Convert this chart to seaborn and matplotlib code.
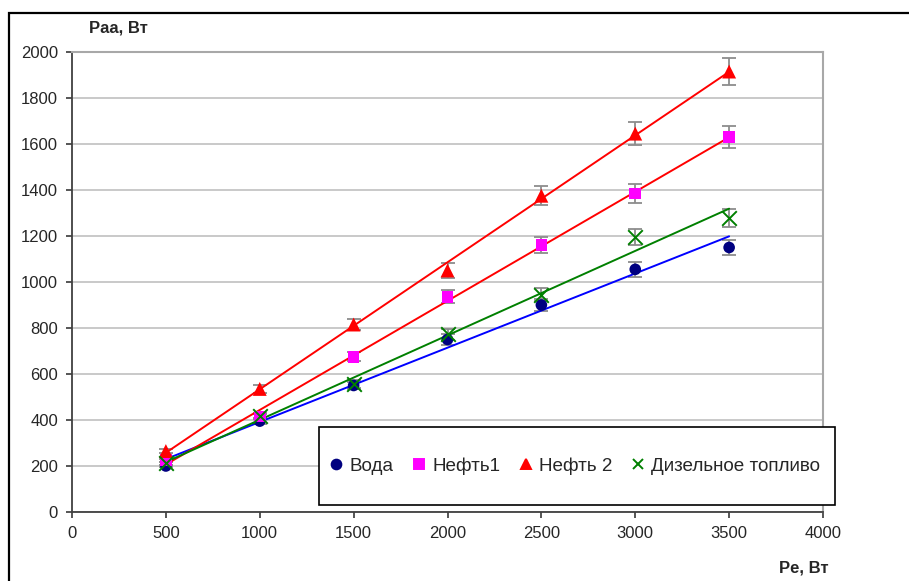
import numpy as np
import pandas as pd
import seaborn as sns
import matplotlib.pyplot as plt
from matplotlib.patches import Rectangle

# data
pe = [500, 1000, 1500, 2000, 2500, 3000, 3500]
voda = [200, 395, 550, 750, 900, 1055, 1150]
neft1 = [225, 415, 675, 935, 1160, 1385, 1630]
neft2 = [265, 535, 815, 1050, 1375, 1645, 1915]
dizel = [212, 418, 556, 772, 945, 1195, 1278]

series_names = ['Вода', 'Нефть1', 'Нефть 2', 'Дизельное топливо']
series_vals = [voda, neft1, neft2, dizel]
marker_colors = ['#000080', '#ff00ff', '#ff0000', '#008000']
line_colors = ['#0000ff', '#ff0000', '#ff0000', '#008000']
markers = ['o', 's', '^', 'x']
err_frac = 0.03

sns.set_theme(style='white')
plt.rcParams['font.family'] = ['Liberation Sans', 'DejaVu Sans']

df = pd.DataFrame({
    'Pe': pe * len(series_names),
    'Paa': sum(series_vals, []),
    'series': sum([[n] * len(pe) for n in series_names], []),
})

fig = plt.figure(figsize=(9.09, 5.81), dpi=100)
ax = fig.add_axes([0.0792, 0.1188, 0.8262, 0.7917])

for name, vals, mc, lc, m in zip(series_names, series_vals, marker_colors, line_colors, markers):
    sub = df[df['series'] == name]
    ax.errorbar(sub['Pe'], sub['Paa'], yerr=np.array(vals) * err_frac, fmt='none',
                ecolor='#8c8c8c', elinewidth=1.3, capsize=5, capthick=1.3, zorder=2)
    sns.regplot(data=sub, x='Pe', y='Paa', scatter=False, ci=None, ax=ax,
                line_kws={'color': lc, 'lw': 1.4, 'zorder': 3})
    if m == 'x':
        sns.scatterplot(data=sub, x='Pe', y='Paa', marker=m, color=mc, s=110,
                        linewidth=1.4, ax=ax, zorder=4, legend=False)
    else:
        sns.scatterplot(data=sub, x='Pe', y='Paa', marker=m, color=mc,
                        s=100 if m == '^' else 70, edgecolor='none', ax=ax,
                        zorder=4, legend=False)

ax.set_xlim(0, 4000)
ax.set_ylim(0, 2000)
ax.set_xticks(range(0, 4001, 500))
ax.set_yticks(range(0, 2001, 200))
ax.tick_params(axis='both', labelsize=12, length=4, direction='out', color='#404040',
               bottom=True, left=True, pad=6)
ax.yaxis.grid(True, color='#c0c0c0', lw=1.2)
ax.set_axisbelow(True)
ax.set_xlabel('')
ax.set_ylabel('')
for side in ['left', 'bottom']:
    ax.spines[side].set_color('#404040')
    ax.spines[side].set_linewidth(1.3)
for side in ['top', 'right']:
    ax.spines[side].set_color('#a8a8a8')
    ax.spines[side].set_linewidth(1.5)

fig.text(118 / 909, 1 - 28 / 581, 'Paa, Вт', fontsize=12, fontweight='bold',
         ha='center', va='center')
fig.text(804 / 909, 1 - 568 / 581, 'Pe, Вт', fontsize=12, fontweight='bold',
         ha='center', va='center')

# legend box drawn by hand so its size matches
ax.add_patch(Rectangle((0.329, 0.015), 0.687, 0.17, transform=ax.transAxes,
                       facecolor='white', edgecolor='black', lw=1.2,
                       clip_on=False, zorder=5))
handles = [plt.Line2D([], [], ls='none', marker=m, color=c, markersize=7,
                      markeredgewidth=1.4) for m, c in zip(markers, marker_colors)]
leg = ax.legend(handles, series_names, ncol=4, loc='center left',
                bbox_to_anchor=(0.342, 0.05, 0.654, 0.1), mode='expand',
                borderaxespad=0, borderpad=0, fontsize=13.6, frameon=False,
                handletextpad=0.3, handlelength=0.8, columnspacing=1.4)
leg.set_zorder(6)

fig.patches.append(Rectangle((9 / 909, -0.2), 1.2, 0.2 + (1 - 13 / 581),
                             transform=fig.transFigure, fill=False,
                             edgecolor='black', lw=1.6))

fig.savefig('out.png', dpi=100)
